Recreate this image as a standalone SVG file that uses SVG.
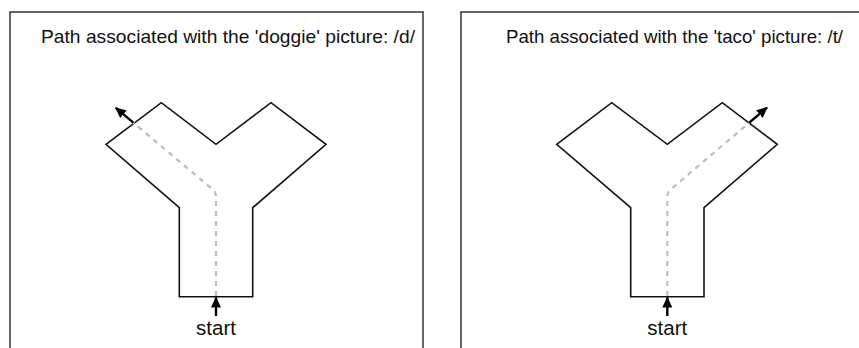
<svg xmlns="http://www.w3.org/2000/svg" width="859" height="348" viewBox="0 0 859 348">
<style>
.frame{fill:none;stroke:#333;stroke-width:1.5}
.shape{fill:#fff;stroke:#111;stroke-width:1.6;stroke-linejoin:miter}
.route{fill:none;stroke:#bdbdbd;stroke-width:2.2;stroke-dasharray:5 5}
.arrow{fill:none;stroke:#000;stroke-width:2.4;marker-end:url(#ah)}
.title{font-family:"Liberation Sans",Arial,sans-serif;font-size:19px;fill:#111}
.lbl{font-family:"Liberation Sans",Arial,sans-serif;font-size:20.5px;fill:#111;text-anchor:middle}
</style>
<defs>
<marker id="ah" markerUnits="userSpaceOnUse" markerWidth="11" markerHeight="11" refX="10" refY="5.5" orient="auto">
<path d="M0,0.5 L11,5.5 L0,10.5 z" fill="#000"/>
</marker>
</defs>
<g id="panel-doggie">
<rect class="frame" x="10" y="12" width="413" height="345"/>
<text class="title" x="41" y="43" textLength="374" lengthAdjust="spacingAndGlyphs">Path associated with the 'doggie' picture: /d/</text>
<polygon class="shape" points="106,144.3 161.3,102.7 216,144.3 271,102.7 326,144.3 252.7,207.7 252.7,296.7 179.3,296.7 179.3,207.7"/>
<text class="lbl" x="216" y="335">start</text>
</g>
<g id="panel-taco">
<rect class="frame" x="461" y="12" width="420" height="345"/>
<text class="title" x="506" y="43" textLength="337" lengthAdjust="spacingAndGlyphs">Path associated with the 'taco' picture: /t/</text>
<polygon class="shape" points="556.7,144.3 611.7,102.7 667.3,144.3 722.3,102.7 777.3,144.3 704,207.7 704,296.7 630.7,296.7 630.7,207.7"/>
<text class="lbl" x="667.3" y="335">start</text>
</g>
<g id="connectors">
<path class="route" d="M216,296 V197 Q216,191 211,188 L133.3,122.7"/>
<path class="arrow" d="M133.3,122.7 L115.8,107.8"/>
<path class="arrow" d="M216,316 L216,297.5"/>
<path class="route" d="M667.3,296 V197 Q667.3,191 672.3,188 L749.3,122.7"/>
<path class="arrow" d="M749.3,122.7 L767,107.6"/>
<path class="arrow" d="M667.3,316 L667.3,297.5"/>
</g>
</svg>
